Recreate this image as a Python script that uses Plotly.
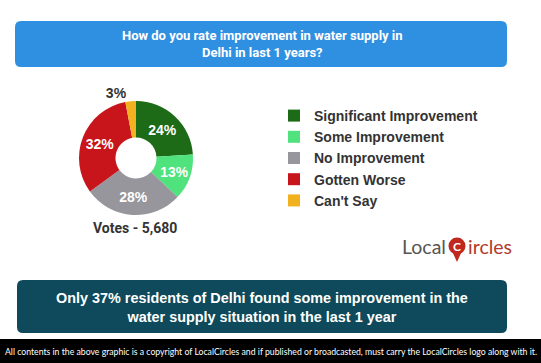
import plotly.graph_objects as go

W, H = 541, 363

title_lines = ["How do you rate improvement in water supply in", "Delhi in last 1 years?"]
categories = ["Significant Improvement", "Some Improvement", "No Improvement", "Gotten Worse", "Can't Say"]
values = [24, 13, 28, 32, 3]
colors = ["#1d6b17", "#4fe27d", "#96969c", "#c8141b", "#f2b11e"]
votes_label = "Votes - 5,680"
conclusion_lines = ["Only 37% residents of Delhi found some improvement in the",
                    "water supply situation in the last 1 year"]
footer_text = ("All contents in the above graphic is a copyright of LocalCircles and if published "
               "or broadcasted, must carry the LocalCircles logo along with it.")


def fx(x):
    return x / W


def fy(y):
    return 1 - y / H


def rrect(x0, y0, x1, y1, r):
    # rounded rectangle path in paper coordinates (input in pixels)
    pts = [
        f"M{fx(x0 + r)},{fy(y0)}",
        f"L{fx(x1 - r)},{fy(y0)}",
        f"Q{fx(x1)},{fy(y0)} {fx(x1)},{fy(y0 + r)}",
        f"L{fx(x1)},{fy(y1 - r)}",
        f"Q{fx(x1)},{fy(y1)} {fx(x1 - r)},{fy(y1)}",
        f"L{fx(x0 + r)},{fy(y1)}",
        f"Q{fx(x0)},{fy(y1)} {fx(x0)},{fy(y1 - r)}",
        f"L{fx(x0)},{fy(y0 + r)}",
        f"Q{fx(x0)},{fy(y0)} {fx(x0 + r)},{fy(y0)}",
        "Z",
    ]
    return " ".join(pts)


cx, cy, d = 136, 158, 114
textpos = ["inside" if v >= 5 else "outside" for v in values]
textcolors = ["#ffffff" if v >= 5 else "#333333" for v in values]

fig = go.Figure()
fig.add_trace(go.Pie(
    labels=categories,
    values=values,
    marker=dict(colors=colors, line=dict(width=0)),
    hole=0.36,
    sort=False,
    direction="clockwise",
    rotation=0,
    texttemplate="%{value}%",
    textposition=textpos,
    insidetextorientation="horizontal",
    textfont=dict(family="Arial, Liberation Sans", size=14, color=textcolors, weight="bold"),
    domain=dict(x=[fx(cx - d / 2), fx(cx + d / 2)], y=[fy(cy + d / 2), fy(cy - d / 2)]),
    showlegend=True,
))

shapes = [
    dict(type="path", xref="paper", yref="paper", path=rrect(15, 21, 507, 67, 6),
         fillcolor="#2f90e1", line=dict(width=0), layer="below"),
    dict(type="path", xref="paper", yref="paper", path=rrect(17, 280, 507, 333, 6),
         fillcolor="#0e4a5b", line=dict(width=0), layer="below"),
    dict(type="rect", xref="paper", yref="paper", x0=0, x1=1, y0=0, y1=fy(339),
         fillcolor="#000000", line=dict(width=0), layer="below"),
    # logo pin
    dict(type="path", xref="paper", yref="paper",
         path=f"M{fx(452)},{fy(251)} L{fx(457)},{fy(262)} L{fx(462)},{fy(251)} Z",
         fillcolor="#c0281e", line=dict(width=0), layer="above"),
    dict(type="circle", xref="paper", yref="paper",
         x0=fx(448.5), x1=fx(465.5), y0=fy(254.5), y1=fy(237.5),
         fillcolor="#c0281e", line=dict(width=0), layer="above"),
]

annotations = [
    dict(text="<br>".join(title_lines), x=fx(262), y=fy(44.5), xref="paper", yref="paper",
         showarrow=False, font=dict(family="Roboto", size=13, color="#ffffff", weight="bold"),
         align="center", xanchor="center", yanchor="middle"),
    dict(text=votes_label, x=fx(135), y=fy(228), xref="paper", yref="paper",
         showarrow=False, font=dict(family="Roboto", size=14, color="#333333", weight="bold"),
         xanchor="center", yanchor="middle"),
    dict(text="<br>".join(conclusion_lines), x=fx(262), y=fy(307.5), xref="paper", yref="paper",
         showarrow=False, font=dict(family="Arial, Liberation Sans", size=14.4, color="#ffffff", weight="bold"),
         align="center", xanchor="center", yanchor="middle"),
    dict(text=footer_text, x=fx(270.5), y=fy(351), xref="paper", yref="paper",
         showarrow=False, font=dict(family="Lato", size=8.7, color="#ffffff"),
         xanchor="center", yanchor="middle"),
    dict(text="Local", x=fx(448), y=fy(246), xref="paper", yref="paper",
         showarrow=False, font=dict(family="Lato", size=19.5, color="#555555"),
         xanchor="right", yanchor="middle"),
    dict(text="C", x=fx(457), y=fy(246), xref="paper", yref="paper",
         showarrow=False, font=dict(family="Lato", size=12, color="#ffffff", weight="bold"),
         xanchor="center", yanchor="middle"),
    dict(text="ircles", x=fx(466), y=fy(246), xref="paper", yref="paper",
         showarrow=False, font=dict(family="Lato", size=19.5, color="#b23a2c"),
         xanchor="left", yanchor="middle"),
]

fig.update_layout(
    width=W, height=H,
    margin=dict(l=0, r=0, t=0, b=0),
    paper_bgcolor="#ffffff",
    plot_bgcolor="#ffffff",
    shapes=shapes,
    annotations=annotations,
    legend=dict(x=fx(274), y=fy(158), xanchor="left", yanchor="middle",
                font=dict(family="Liberation Sans, Arial", size=14, color="#333333", weight="bold"),
                bgcolor="rgba(0,0,0,0)", tracegroupgap=0, itemclick=False),
)

fig.write_html("out.html", config={"displayModeBar": False},
               post_script="document.body.style.margin='0';document.body.style.padding='0';")
